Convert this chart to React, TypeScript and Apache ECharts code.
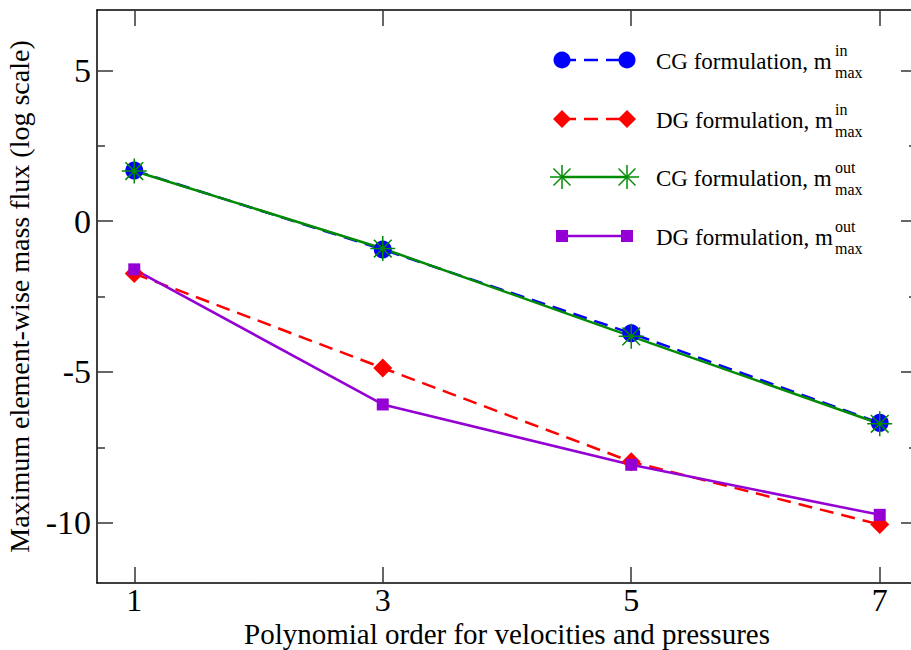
import React, { useEffect, useRef } from "react";
import * as echarts from "echarts";

const xValues = [1, 3, 5, 7];
const cgIn = [1.68, -0.94, -3.72, -6.69];
const dgIn = [-1.74, -4.87, -7.98, -10.06];
const cgOut = [1.66, -0.91, -3.82, -6.72];
const dgOut = [-1.6, -6.08, -8.08, -9.74];
const xTicks = [1, 3, 5, 7];
const yMajor = [-10, -5, 0, 5];
const yMinor = [-7.5, -2.5, 2.5];
const legendNames = ["CG formulation, m", "DG formulation, m", "CG formulation, m", "DG formulation, m"];
const legendSup = ["in", "in", "out", "out"];
const legendSub = ["max", "max", "max", "max"];

const FONT = "'Liberation Serif', 'Times New Roman', Times, serif";
const BLUE = "#0000ff";
const RED = "#ff0000";
const GREEN = "#008b00";
const PURPLE = "#9400d3";
const STAR = "path://M0 -12L0 12M-12 0L12 0M-8.5 -8.5L8.5 8.5M-8.5 8.5L8.5 -8.5";

const pairs = (ys: number[]) => xValues.map((x, i) => [x, ys[i]]);

const tickStyle = { color: "#333", width: 1.5 };

function legendGraphic() {
  const x1 = 562;
  const x2 = 627;
  const rows = [60, 119, 177, 236];
  const children: any[] = [];
  rows.forEach((y, i) => {
    const color = [BLUE, RED, GREEN, PURPLE][i];
    const dashed = i < 2;
    children.push({
      type: "line",
      shape: { x1, y1: y, x2, y2: y },
      style: { stroke: color, lineWidth: 2.5, lineDash: dashed ? [14, 8] : null },
    });
    [x1, x2].forEach((cx) => {
      if (i === 0) {
        children.push({ type: "circle", shape: { cx, cy: y, r: 8.5 }, style: { fill: BLUE } });
      } else if (i === 1) {
        children.push({
          type: "polygon",
          shape: { points: [[cx, y - 9], [cx + 9, y], [cx, y + 9], [cx - 9, y]] },
          style: { fill: RED },
        });
      } else if (i === 2) {
        const segs = [
          [-12, 0, 12, 0],
          [0, -12, 0, 12],
          [-8.5, -8.5, 8.5, 8.5],
          [-8.5, 8.5, 8.5, -8.5],
        ];
        segs.forEach((s) =>
          children.push({
            type: "line",
            shape: { x1: cx + s[0], y1: y + s[1], x2: cx + s[2], y2: y + s[3] },
            style: { stroke: GREEN, lineWidth: 1.5 },
          })
        );
      } else {
        children.push({ type: "rect", shape: { x: cx - 6, y: y - 6, width: 12, height: 12 }, style: { fill: PURPLE } });
      }
    });
    children.push({
      type: "text",
      style: {
        text: legendNames[i],
        x: 656,
        y: y + 1,
        fontFamily: FONT,
        fontSize: 23,
        fill: "#000",
        textAlign: "left",
        textVerticalAlign: "middle",
      },
    });
    children.push({
      type: "text",
      style: {
        text: legendSup[i],
        x: 835,
        y: y - 10,
        fontFamily: FONT,
        fontSize: 16,
        fill: "#000",
        textAlign: "left",
        textVerticalAlign: "middle",
      },
    });
    children.push({
      type: "text",
      style: {
        text: legendSub[i],
        x: 835,
        y: y + 12,
        fontFamily: FONT,
        fontSize: 16,
        fill: "#000",
        textAlign: "left",
        textVerticalAlign: "middle",
      },
    });
  });
  return [{ type: "group", z: 100, children }];
}

export default function App() {
  const ref = useRef<HTMLDivElement>(null);
  useEffect(() => {
    if (!ref.current) return;
    const chart = echarts.init(ref.current, null, { renderer: "svg" });
    const axisLine = { show: true, onZero: false, lineStyle: { color: "#000", width: 1.5 } };
    const noLine = { show: false, onZero: false };
    const baseX = { type: "value", min: 0.7, max: 7.3, splitLine: { show: false } };
    const baseY = { type: "value", min: -12, max: 7, splitLine: { show: false } };
    chart.setOption({
      animation: false,
      backgroundColor: "#fff",
      grid: { left: 97, top: 10, width: 820, height: 573, containLabel: false, outerBoundsMode: "none" },
      xAxis: [
        {
          ...baseX,
          position: "bottom",
          axisLine,
          axisTick: { show: true, inside: true, length: 16, customValues: xTicks, lineStyle: tickStyle },
          axisLabel: {
            show: true,
            customValues: xTicks,
            margin: 1,
            color: "#000",
            fontFamily: FONT,
            fontSize: 32,
            lineHeight: 32,
          },
          name: "Polynomial order for velocities and pressures",
          nameLocation: "middle",
          nameGap: 36,
          nameMoveOverlap: false,
          nameTextStyle: { fontFamily: FONT, fontSize: 29, color: "#000", lineHeight: 29 },
        },
        {
          ...baseX,
          position: "top",
          axisLine,
          axisTick: { show: true, inside: true, length: 16, customValues: xTicks, lineStyle: tickStyle },
          axisLabel: { show: false },
        },
      ],
      yAxis: [
        {
          ...baseY,
          position: "left",
          axisLine,
          axisTick: { show: true, inside: true, length: 16, customValues: yMajor, lineStyle: tickStyle },
          axisLabel: {
            show: true,
            customValues: yMajor,
            margin: 6,
            color: "#000",
            fontFamily: FONT,
            fontSize: 34,
          },
          name: "Maximum element-wise mass flux (log scale)",
          nameLocation: "middle",
          nameGap: 64,
          nameMoveOverlap: false,
          nameTextStyle: { fontFamily: FONT, fontSize: 28, color: "#000" },
        },
        {
          ...baseY,
          position: "left",
          axisLine: noLine,
          axisTick: { show: true, inside: true, length: 8, customValues: yMinor, lineStyle: tickStyle },
          axisLabel: { show: false },
        },
        {
          ...baseY,
          position: "right",
          axisLine,
          axisTick: { show: true, inside: true, length: 16, customValues: yMajor, lineStyle: tickStyle },
          axisLabel: { show: false },
        },
        {
          ...baseY,
          position: "right",
          axisLine: noLine,
          axisTick: { show: true, inside: true, length: 8, customValues: yMinor, lineStyle: tickStyle },
          axisLabel: { show: false },
        },
      ],
      series: [
        {
          name: "CG in",
          type: "line",
          data: pairs(cgIn),
          symbol: "circle",
          symbolSize: 18,
          lineStyle: { color: BLUE, width: 2.5, type: [14, 8] },
          itemStyle: { color: BLUE, borderWidth: 0 },
        },
        {
          name: "DG in",
          type: "line",
          data: pairs(dgIn),
          symbol: "diamond",
          symbolSize: 19,
          lineStyle: { color: RED, width: 2.5, type: [14, 8] },
          itemStyle: { color: RED, borderWidth: 0 },
        },
        {
          name: "CG out",
          type: "line",
          data: pairs(cgOut),
          symbol: STAR,
          symbolSize: 25,
          lineStyle: { color: GREEN, width: 2.5 },
          itemStyle: { color: "none", borderColor: GREEN, borderWidth: 1.5 },
        },
        {
          name: "DG out",
          type: "line",
          data: pairs(dgOut),
          symbol: "rect",
          symbolSize: 12,
          lineStyle: { color: PURPLE, width: 2.5 },
          itemStyle: { color: PURPLE, borderWidth: 0 },
        },
      ],
      graphic: legendGraphic(),
    });
    return () => chart.dispose();
  }, []);
  return <div ref={ref} style={{ position: "absolute", left: 0, top: 0, width: 911, height: 650 }} />;
}
